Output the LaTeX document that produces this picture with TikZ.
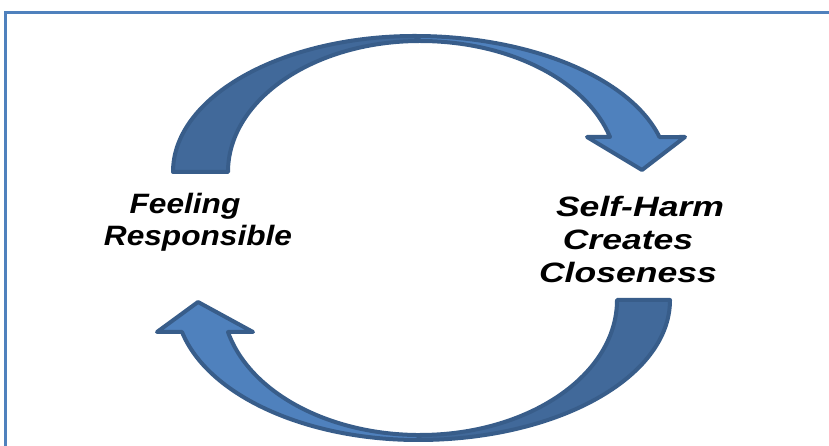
\documentclass[tikz,border=0pt]{standalone}
\usepackage{fontspec}
\newfontfamily\lab[FakeStretch=1.27]{Liberation Sans}
\newfontfamily\labl[FakeStretch=1.13]{Liberation Sans}
\definecolor{frameblue}{HTML}{4F81BD}
\definecolor{lightblue}{HTML}{4F81BD}
\definecolor{darkblue}{HTML}{41699A}
\definecolor{edgeblue}{HTML}{385D8A}
\begin{document}
\begin{tikzpicture}[x=1pt,y=1pt,
  piece/.style={draw=edgeblue, line width=4pt, line join=round},
  lbl/.style={font=\lab\bfseries\itshape\fontsize{28}{33}\selectfont, align=center, inner sep=0pt, text=black},
  lbll/.style={font=\labl\bfseries\itshape\fontsize{28}{32}\selectfont, align=center, inner sep=0pt, text=black}]
\useasboundingbox (0,0) rectangle (829,446);
\clip (0,0) rectangle (829,446);
% frame
\draw[frameblue, line width=2.5pt] (5.5,433.5) rectangle (850,-20);
% top arrow, back part
\filldraw[piece, fill=darkblue] (173,274)
  arc[start angle=180,end angle=90,x radius=242pt,y radius=136pt]
  -- (420,405)
  arc[start angle=90,end angle=180,x radius=192pt,y radius=131pt] -- cycle;
% top arrow, front part with head
\filldraw[piece, fill=lightblue] (415,410)
  arc[start angle=90,end angle=14.9,x radius=253pt,y radius=136pt]
  -- (685,309) -- (642,276) -- (587,309) -- (610,309)
  arc[start angle=15.5,end angle=90,x radius=197pt,y radius=131pt] -- cycle;
% bottom arrow, back part
\filldraw[piece, fill=darkblue] (670,146)
  arc[start angle=0,end angle=-90,x radius=252pt,y radius=140pt]
  -- (420,11)
  arc[start angle=-90,end angle=0,x radius=197pt,y radius=135pt] -- cycle;
% bottom arrow, front part with head
\filldraw[piece, fill=lightblue] (418,6)
  arc[start angle=270,end angle=193.2,x radius=242.4pt,y radius=140pt]
  -- (157,114) -- (198,144) -- (253,114) -- (228,114)
  arc[start angle=193.7,end angle=270,x radius=197.6pt,y radius=135pt] -- cycle;
% labels
\node[lbll] (feel) at (198,224) {Feeling\hspace*{26pt}\\Responsible};
\node[lbl] (shc) at (628,207) {\hspace*{24pt}Self-Harm\\Creates\hspace*{6pt}\\Closeness};
\end{tikzpicture}
\end{document}
